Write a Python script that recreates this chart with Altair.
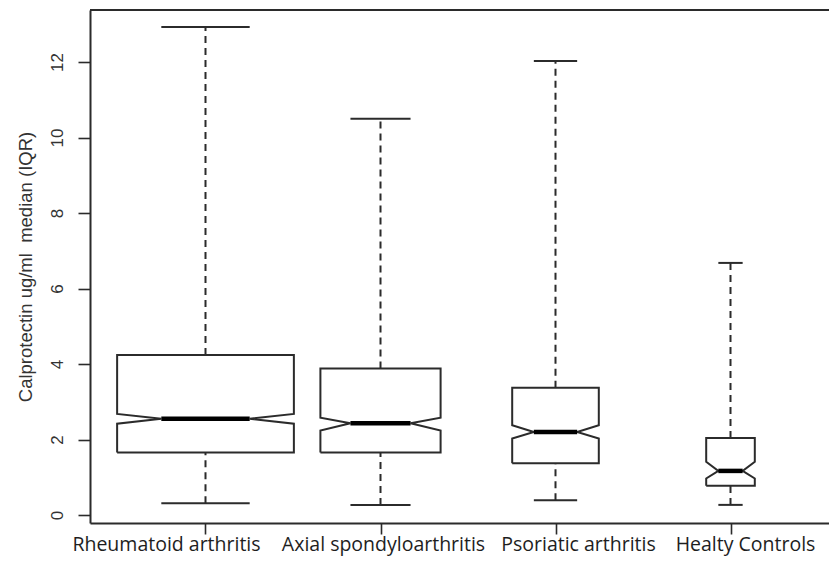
import altair as alt
import pandas as pd

# ---- data (calprotectin, ug/ml) ----
categories = ["Rheumatoid arthritis", "Axial spondyloarthritis",
              "Psoriatic arthritis", "Healty Controls"]
positions = [1, 2, 3, 4]
lower_whisker = [0.31, 0.27, 0.39, 0.27]
q1 = [1.66, 1.66, 1.37, 0.78]
median = [2.55, 2.43, 2.20, 1.17]
q3 = [4.24, 3.88, 3.37, 2.04]
upper_whisker = [12.93, 10.50, 12.03, 6.68]
notch_low = [2.42, 2.24, 2.03, 0.97]
notch_high = [2.68, 2.58, 2.38, 1.41]
rel_width = [1.0, 0.68, 0.49, 0.275]   # varwidth: sqrt(n) relative to largest group
y_ticks = [0, 2, 4, 6, 8, 10, 12]

# ---- style constants ----
BOXWEX = 1.01
NOTCH_FRAC = 0.5
STAPLE_FRAC = 0.5
W, H = 739, 513
PX_PER_UNIT = 175.0
X_DOMAIN = [0.34, 0.34 + W / PX_PER_UNIT]
Y_DOMAIN = [-0.21, 13.38]
LABEL_SHIFT_PX = [-39, 3, 23, 15]     # category labels were placed by hand in the original
LINE = "#2b2b2b"

poly_rows, whisk_rows, cap_rows, med_rows, lab_rows = [], [], [], [], []
for i, cat in enumerate(categories):
    p = positions[i]
    hw = BOXWEX * rel_width[i] / 2
    pts = [(-1, q1[i]), (1, q1[i]), (1, notch_low[i]), (NOTCH_FRAC, median[i]),
           (1, notch_high[i]), (1, q3[i]), (-1, q3[i]), (-1, notch_high[i]),
           (-NOTCH_FRAC, median[i]), (-1, notch_low[i]), (-1, q1[i])]
    for k, (f, v) in enumerate(pts):
        poly_rows.append({"group": cat, "order": k, "x": p + hw * f, "y": v})
    whisk_rows.append({"group": cat, "x": p, "y": q3[i], "y2": upper_whisker[i]})
    whisk_rows.append({"group": cat, "x": p, "y": lower_whisker[i], "y2": q1[i]})
    for v in (lower_whisker[i], upper_whisker[i]):
        cap_rows.append({"group": cat, "x": p - hw * STAPLE_FRAC,
                         "x2": p + hw * STAPLE_FRAC, "y": v})
    med_rows.append({"group": cat, "x": p - hw * NOTCH_FRAC,
                     "x2": p + hw * NOTCH_FRAC, "y": median[i]})
    lab_rows.append({"label": cat, "x": p + LABEL_SHIFT_PX[i] / PX_PER_UNIT})

poly_df = pd.DataFrame(poly_rows)
whisk_df = pd.DataFrame(whisk_rows)
cap_df = pd.DataFrame(cap_rows)
med_df = pd.DataFrame(med_rows)
lab_df = pd.DataFrame(lab_rows)
frame_df = pd.DataFrame({"x": [X_DOMAIN[0]], "x2": [X_DOMAIN[1]], "y": [Y_DOMAIN[1]]})

x_scale = alt.Scale(domain=X_DOMAIN, nice=False, zero=False)
y_scale = alt.Scale(domain=Y_DOMAIN, nice=False, zero=False)

x_axis = alt.Axis(values=positions, labels=False, title=None, grid=False,
                  tickSize=11, tickWidth=1.6, tickColor=LINE,
                  domainColor=LINE, domainWidth=2)
y_axis = alt.Axis(values=y_ticks, title="Calprotectin ug/ml\u00a0 median (IQR)",
                  grid=False, tickSize=12, tickWidth=1.6, tickColor=LINE,
                  domainColor=LINE, domainWidth=2,
                  labelAngle=270, labelAlign="center", labelBaseline="bottom",
                  labelFont="Liberation Sans", labelFontSize=17, labelColor="#333333",
                  labelPadding=12,
                  titleFont="Liberation Sans", titleFontSize=18.5, titleFontWeight="normal",
                  titleColor="#333333", titlePadding=13)

X = alt.X("x:Q", scale=x_scale, axis=x_axis)
Y = alt.Y("y:Q", scale=y_scale, axis=y_axis)

boxes = alt.Chart(poly_df).mark_line(color=LINE, strokeWidth=2).encode(
    x=X, y=Y, detail="group:N", order=alt.Order("order:Q"),
)

whiskers = alt.Chart(whisk_df).mark_rule(color=LINE, strokeWidth=2,
                                          strokeDash=[7, 5]).encode(
    x=X, y=Y, y2="y2:Q",
)

caps = alt.Chart(cap_df).mark_rule(color=LINE, strokeWidth=2).encode(
    x=X, x2="x2:Q", y=Y,
)

medians = alt.Chart(med_df).mark_rule(color="#000000", strokeWidth=4.5).encode(
    x=X, x2="x2:Q", y=Y,
)

top_frame = alt.Chart(frame_df).mark_rule(color=LINE, strokeWidth=2).encode(
    x=X, x2="x2:Q", y=Y,
)

labels = alt.Chart(lab_df).mark_text(
    font="Open Sans", fontSize=19.5, color="#1e1e1e", baseline="alphabetic",
    align="center", clip=False,
).encode(
    x=X, y=alt.value(H + 28), text="label:N",
)

chart = alt.layer(whiskers, boxes, caps, medians, top_frame, labels).properties(
    width=W, height=H,
    autosize=alt.AutoSizeParams(type="none"),
    padding={"left": 82, "top": 2, "right": 0, "bottom": 34},
).configure(background="white").configure_view(strokeWidth=0)

chart.save("out.html", embed_options={"renderer": "svg", "actions": False})
